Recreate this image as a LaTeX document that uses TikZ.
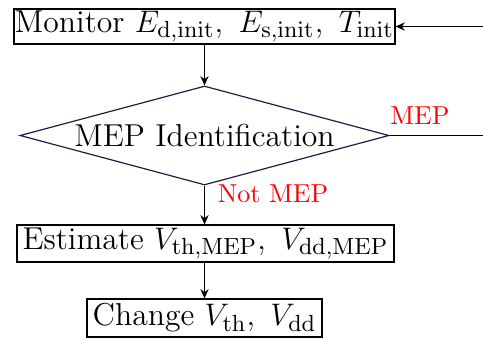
\documentclass[tikz,border=0pt]{standalone}
\usetikzlibrary{shapes.geometric,arrows.meta}
\definecolor{diaedge}{RGB}{25,25,70}
\begin{document}
\begin{tikzpicture}[x=0.385pt,y=-0.385pt,
  main/.style={font=\fontsize{12.2}{14}\selectfont},
  box/.style={main,draw,rectangle,inner sep=0pt,line width=0.45pt},
  decision/.style={main,draw=diaedge,diamond,aspect=3.727,inner sep=0pt,line width=0.45pt},
  conn/.style={line width=0.45pt,-{Stealth[length=3.6pt,width=3.2pt]}},
  plain/.style={line width=0.45pt},
  lbl/.style={text=red,inner sep=0pt}]
\useasboundingbox (0,0) rectangle (483,340);
\node[box,minimum width={381*0.385pt},minimum height={35*0.385pt}] (mon) at (204.5,26.5)
  {Monitor $E_{\mathrm{d,init}},\ E_{\mathrm{s,init}},\ T_{\mathrm{init}}$};
\node[decision,minimum width={369*0.385pt},minimum height={99*0.385pt}] (dia) at (204.5,135.5)
  {MEP Identification};
\node[box,minimum width={377*0.385pt},minimum height={37*0.385pt}] (est) at (205.5,243.5)
  {Estimate $V_{\mathrm{th,MEP}},\ V_{\mathrm{dd,MEP}}$};
\node[box,minimum width={235*0.385pt},minimum height={38*0.385pt}] (chg) at (204.5,318)
  {Change $V_{\mathrm{th}},\ V_{\mathrm{dd}}$};
\coordinate (rlow) at (483,135.5);
\coordinate (rtop) at (483,26.5);
\draw[conn] (mon.south -| dia.north) -- (dia.north);
\draw[conn] (dia.south) -- (est.north -| dia.south);
\draw[conn] (est.south -| chg.north) -- (chg.north);
\draw[plain] (dia.east) -- (rlow);
\draw[conn] (rtop) -- (mon.east);
\node[lbl] (lmep) at (420,116) {MEP};
\node[lbl] (lnot) at (273,194) {Not MEP};
\end{tikzpicture}
\end{document}
